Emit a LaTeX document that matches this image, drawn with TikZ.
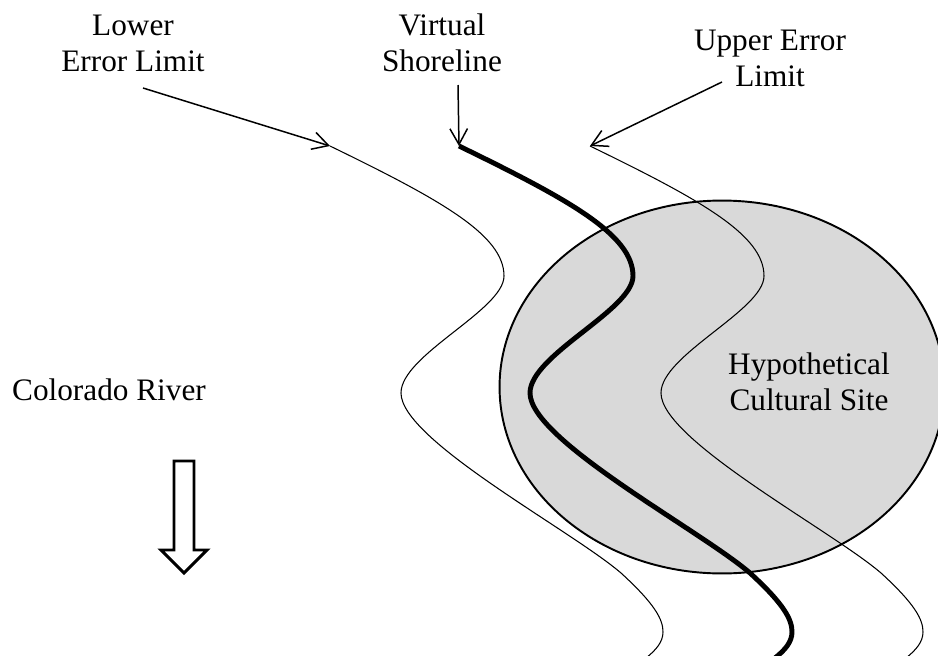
\documentclass[tikz,border=0pt]{standalone}
\usepackage{fontspec}
\setmainfont{Liberation Serif}
\definecolor{siteGray}{HTML}{D9D9D9}
\usetikzlibrary{arrows.meta, calc, shapes.geometric}

% one shoreline, drawn from its upper end at (0,0)
\newcommand{\shorepath}{(0,0) .. controls (111,54) and (174,89) .. (174,130)
   .. controls (174,164) and (71,209) .. (71,247)
   .. controls (71,294) and (241,384) .. (291,427)
   .. controls (326,459) and (333,474) .. (333,486)
   .. controls (333,496) and (326,504) .. (316,512)}

\begin{document}
\begin{tikzpicture}[x=0.02cm, y=-0.02cm,
      lbl/.style={font=\fontsize{17.8}{20.5}\selectfont, align=center, inner sep=0pt},
      ptr/.style={-{Straight Barb[length=9pt, width=10pt]}, line width=0.85pt},
      thinshore/.style={line width=0.6pt},
      thickshore/.style={line width=2.8pt}]
            \useasboundingbox (0,0) rectangle (938,656);
            % Site
            \node[ellipse, draw, line width=1.1pt, fill=siteGray,
               minimum width=8.9cm, minimum height=7.46cm] (site) at (722,387) {};
            \node[lbl, anchor=south] (sitelbl) at (809,411) {Hypothetical\\Cultural Site};
            % Upper ends of the three lines
            \coordinate (lowtop) at (330,146);
            \coordinate (vstop) at (459,146);
            \coordinate (uptop) at (590,146);
            % Shoreline and error limits
            \foreach \top/\sty in {lowtop/thinshore, vstop/thickshore, uptop/thinshore}
               \draw[\sty, shift={(\top)}] \shorepath;
            % Labels
            \node[lbl, anchor=south] (lowlbl) at (133,72) {Lower\\Error Limit};
            \node[lbl, anchor=south] (vslbl) at (442,72) {Virtual\\Shoreline};
            \node[lbl, anchor=south] (uplbl) at (770,87) {Upper Error\\Limit};
            \node[lbl, anchor=base] (river) at (109,400) {Colorado River};
            % Pointers
            \draw[ptr] ($(lowlbl.south)+(10,16)$) -- (lowtop);
            \draw[ptr] ($(vslbl.south)+(16,13)$) -- (vstop);
            \draw[ptr] ($(uplbl.south)+(-48,-5)$) -- (uptop);
            % Flow direction
            \draw[line width=1.7pt] (174,461) -- (194,461) -- (194,550) -- (207,550)
               -- (184,573) -- (161,550) -- (174,550) -- cycle;
         \end{tikzpicture}
\end{document}
